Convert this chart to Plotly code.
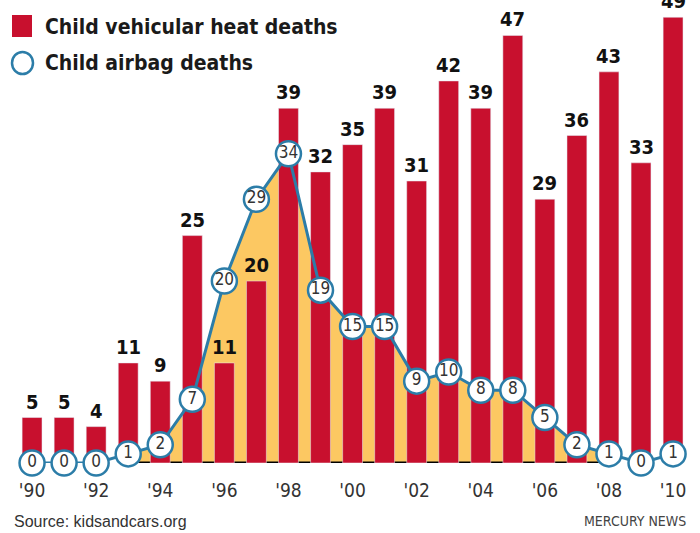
import plotly.graph_objects as go

years = list(range(1990, 2011))
heat_deaths = [5, 5, 4, 11, 9, 25, 11, 20, 39, 32, 35, 39, 31, 42, 39, 47, 29, 36, 43, 33, 49]
airbag_deaths = [0, 0, 0, 1, 2, 7, 20, 29, 34, 19, 15, 15, 9, 10, 8, 8, 5, 2, 1, 0, 1]
tick_years = list(range(1990, 2011, 2))
tick_labels = ["'" + str(y)[2:] for y in tick_years]

RED = "#C8102E"
BLUE = "#2C7DA8"
YELLOW = "#FCC862"
COND = "DejaVu Sans Condensed, Liberation Sans Narrow, sans-serif"

fig = go.Figure()

fig.add_trace(go.Bar(x=years, y=heat_deaths, marker_color=RED, width=0.62,
                     showlegend=False, hoverinfo="skip"))

fig.add_trace(go.Scatter(
    x=years, y=airbag_deaths, mode="lines+markers+text",
    line=dict(color=BLUE, width=3),
    marker=dict(size=25, color="white", line=dict(color=BLUE, width=2.5)),
    text=[str(v) for v in airbag_deaths], textposition="middle center",
    textfont=dict(family=COND, size=17, color="#333333"),
    cliponaxis=False, showlegend=False, hoverinfo="skip"))

# yellow fill under the airbag line (1993-2008), drawn below the bars
i0, i1 = years.index(1993), years.index(2008)
pts = [f"L {years[i]},{airbag_deaths[i]}" for i in range(i0, i1 + 1)]
path = f"M {years[i0]},0 " + " ".join(pts) + f" L {years[i1]},0 Z"
shapes = [
    dict(type="path", path=path, xref="x", yref="y", fillcolor=YELLOW,
         line=dict(width=0), layer="below"),
    dict(type="line", x0=years[i0], x1=years[i1], y0=0, y1=0, xref="x", yref="y",
         line=dict(color="black", width=3), layer="below"),
    # legend swatches
    dict(type="rect", xref="paper", yref="paper", x0=12/700, x1=32/700,
         y0=1-37/463, y1=1-15/463, fillcolor=RED, line=dict(width=0)),
    dict(type="circle", xref="paper", yref="paper", x0=12/700, x1=33/700,
         y0=1-74/463, y1=1-52/463, fillcolor="white", line=dict(color=BLUE, width=2.5)),
]

annotations = []
for x, v in zip(years, heat_deaths):
    annotations.append(dict(x=x, y=v, xref="x", yref="y", text=str(v), showarrow=False,
                            yanchor="bottom", yshift=2,
                            font=dict(family=COND, size=20, color="#111111", weight="bold")))

annotations += [
    dict(x=43/700, y=1-27/463, xref="paper", yref="paper", xanchor="left", yanchor="middle",
         text="Child vehicular heat deaths", showarrow=False,
         font=dict(family=COND, size=21, color="#1a1a1a", weight="bold")),
    dict(x=43/700, y=1-63/463, xref="paper", yref="paper", xanchor="left", yanchor="middle",
         text="Child airbag deaths", showarrow=False,
         font=dict(family=COND, size=21, color="#1a1a1a", weight="bold")),
    dict(x=12/700, y=-(521-463)/463, xref="paper", yref="paper", xanchor="left", yanchor="middle",
         text="Source: kidsandcars.org", showarrow=False,
         font=dict(family="Liberation Sans, Arial, sans-serif", size=16, color="#333333")),
    dict(x=688/700, y=-(521-463)/463, xref="paper", yref="paper", xanchor="right", yanchor="middle",
         text="MERCURY NEWS", showarrow=False,
         font=dict(family=COND, size=14, color="#444444")),
]

fig.update_layout(
    width=700, height=533,
    margin=dict(l=0, r=0, t=0, b=70),
    paper_bgcolor="white", plot_bgcolor="white",
    shapes=shapes, annotations=annotations,
    xaxis=dict(range=[1989.0, 2010.84], tickvals=tick_years, ticktext=tick_labels,
               showgrid=False, zeroline=False, showline=False, ticks="",
               ticklabelstandoff=14,
               tickfont=dict(family=COND, size=19, color="#333333")),
    yaxis=dict(range=[0, 50.9], visible=False, showgrid=False, zeroline=False),
)

fig.write_html("out.html", config={"displayModeBar": False},
               post_script="document.body.style.margin='0';document.body.style.padding='0';")
